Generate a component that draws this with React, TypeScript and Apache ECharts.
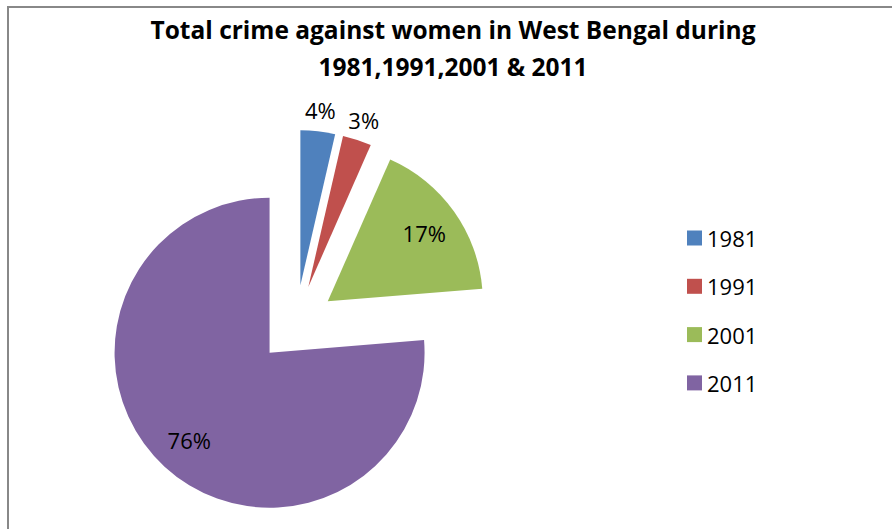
import React, { useEffect, useRef } from "react";
import * as echarts from "echarts";

const categories = ["1981", "1991", "2001", "2011"];
const shares = [3.6, 3.0, 17.1, 76.3];
const colors = ["#4F81BD", "#C0504D", "#9BBB59", "#8064A2"];
const insideLabelYears = ["2001", "2011"];
const outsideLabelYears = ["1981", "1991"];
const titleText = "Total crime against women in West Bengal during\n1981,1991,2001 & 2011";

const FONT = "'Open Sans', 'Noto Sans', sans-serif";

export default function App() {
  const ref = useRef<HTMLDivElement>(null);
  useEffect(() => {
    if (!ref.current) return;
    const chart = echarts.init(ref.current, undefined, { renderer: "svg" });
    const center = [296, 324];
    const offset = 39;
    const baseData = categories.map((c, i) => ({
      name: c,
      value: shares[i],
      selected: true,
      itemStyle: { color: colors[i] },
    }));
    const labelSeries = (radius: number[], years: string[]) => ({
      type: "pie",
      center,
      radius,
      startAngle: 90,
      clockwise: true,
      selectedMode: "multiple",
      selectedOffset: offset,
      percentPrecision: 0,
      silent: true,
      z: 5,
      emphasis: { disabled: true },
      labelLine: { show: false },
      itemStyle: { color: "rgba(0,0,0,0)", borderWidth: 0 },
      data: categories.map((c, i) => ({
        name: c,
        value: shares[i],
        selected: true,
        itemStyle: { color: "rgba(0,0,0,0)" },
        label: { show: years.includes(c) },
      })),
      label: {
        position: "inside",
        formatter: "{d}%",
        color: "#000",
        fontFamily: FONT,
        fontSize: 22,
      },
    });
    chart.setOption({
      animation: false,
      backgroundColor: "#fff",
      color: colors,
      title: {
        text: titleText,
        left: 448,
        textAlign: "center",
        top: 6,
        textStyle: {
          fontFamily: FONT,
          fontWeight: "bold",
          fontSize: 24.5,
          lineHeight: 37,
          color: "#000",
        },
      },
      legend: {
        orient: "vertical",
        left: 682,
        top: 222,
        itemWidth: 15,
        itemHeight: 15,
        itemGap: 26.3,
        icon: "rect",
        selectedMode: false,
        data: categories,
        textStyle: {
          fontFamily: FONT,
          fontSize: 22,
          lineHeight: 22,
          color: "#000",
        },
      },
      graphic: [
        {
          type: "line",
          shape: { x1: 7, y1: 7, x2: 892, y2: 7 },
          style: { stroke: "#888", lineWidth: 2 },
          silent: true,
        },
        {
          type: "line",
          shape: { x1: 8, y1: 6, x2: 8, y2: 529 },
          style: { stroke: "#888", lineWidth: 2 },
          silent: true,
        },
      ],
      series: [
        {
          type: "pie",
          center,
          radius: 155,
          startAngle: 90,
          clockwise: true,
          selectedMode: "multiple",
          selectedOffset: offset,
          emphasis: { disabled: true },
          label: { show: false },
          labelLine: { show: false },
          data: baseData,
        },
        labelSeries([76, 155], insideLabelYears),
        labelSeries([150, 196], outsideLabelYears),
      ],
    });
    return () => chart.dispose();
  }, []);
  return (
    <div
      ref={ref}
      style={{ position: "fixed", left: 0, top: 0, width: 892, height: 529 }}
    />
  );
}
